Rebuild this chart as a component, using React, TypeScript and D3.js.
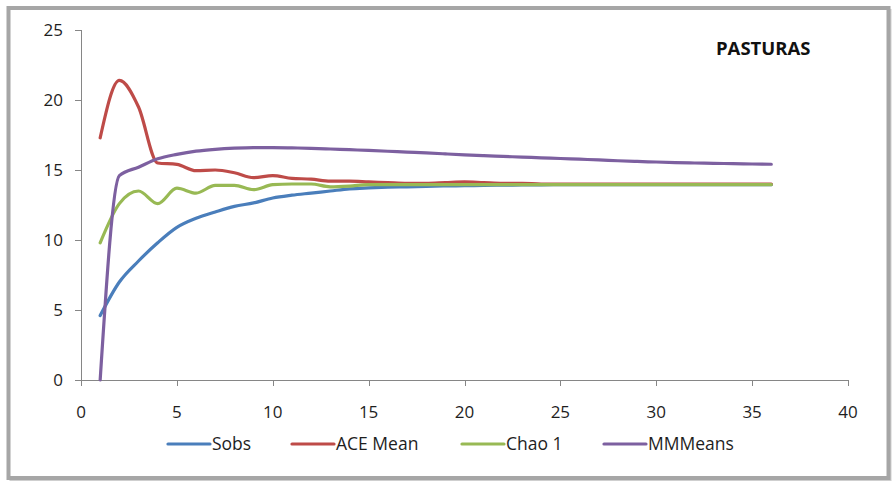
import React from "react";
import * as d3 from "d3";

// Sample counts (x) and the four richness estimators
const samples: number[] = Array.from({ length: 36 }, (_, i) => i + 1);

const sobs: number[] = [
  4.6, 7.0, 8.5, 9.8, 10.9, 11.55, 12.0, 12.4, 12.65, 13.0,
  13.2, 13.35, 13.5, 13.65, 13.72, 13.77, 13.8, 13.83, 13.86, 13.88,
  13.9, 13.92, 13.93, 13.94, 13.95, 13.95, 13.95, 13.95, 13.95, 13.95,
  13.95, 13.95, 13.95, 13.95, 13.95, 13.95,
];

const aceMean: number[] = [
  17.3, 21.4, 19.5, 15.5, 15.4, 14.95, 15.0, 14.8, 14.45, 14.6,
  14.4, 14.35, 14.2, 14.2, 14.15, 14.1, 14.05, 14.05, 14.1, 14.15,
  14.1, 14.05, 14.05, 14.0, 14.0, 14.0, 14.0, 14.0, 14.0, 14.0,
  14.0, 14.0, 14.0, 14.0, 14.0, 14.0,
];

const chao1: number[] = [
  9.8, 12.6, 13.5, 12.6, 13.7, 13.35, 13.9, 13.9, 13.6, 13.95,
  14.0, 14.0, 13.8, 13.85, 13.95, 13.95, 13.95, 13.95, 13.95, 13.95,
  13.95, 13.95, 13.95, 13.95, 13.95, 13.95, 13.95, 13.95, 13.95, 13.95,
  13.95, 13.95, 13.95, 13.95, 13.95, 13.95,
];

const mmMeans: number[] = [
  0, 14.6, 15.2, 15.8, 16.12, 16.35, 16.48, 16.56, 16.6, 16.6,
  16.58, 16.55, 16.5, 16.45, 16.4, 16.34, 16.28, 16.22, 16.15, 16.08,
  16.02, 15.97, 15.92, 15.87, 15.82, 15.77, 15.72, 15.66, 15.61, 15.57,
  15.53, 15.5, 15.48, 15.45, 15.43, 15.41,
];

const seriesNames: string[] = ["Sobs", "ACE Mean", "Chao 1", "MMMeans"];
const seriesColors: string[] = ["#4a7ebb", "#be4b48", "#98b954", "#7d60a0"];
const xTicks: number[] = [0, 5, 10, 15, 20, 25, 30, 35, 40];
const yTicks: number[] = [0, 5, 10, 15, 20, 25];
const title = "PASTURAS";

// Legend layout: left edge of each legend swatch
const legendX: number[] = [168, 292, 462, 604];

const W = 892;
const H = 483;
const plot = { left: 81, right: 848, top: 30, bottom: 380 };
const FONT = "'Open Sans', 'Liberation Sans', Arial, sans-serif";
const AXIS = "#868686";
const TEXT = "#1e1e1e";

export default function App() {
  const x = d3.scaleLinear().domain([0, 40]).range([plot.left, plot.right]);
  const y = d3.scaleLinear().domain([0, 25]).range([plot.bottom, plot.top]);

  const allSeries = [sobs, aceMean, chao1, mmMeans];
  const line = d3
    .line<number>()
    .x((_, i) => x(samples[i]))
    .y((v) => y(v))
    .curve(d3.curveMonotoneX);

  return (
    <svg
      width={W}
      height={H}
      style={{ position: "absolute", left: 0, top: 0, background: "#fff" }}
      fontFamily={FONT}
    >
      {/* chart frame */}
      <rect x={10.5} y={10} width={880} height={470} fill="none" stroke="#cfcfcf" strokeWidth={2} />
      <rect x={8.5} y={8} width={880} height={470} fill="#fff" stroke="#a6a6a6" strokeWidth={4} />

      {/* y axis */}
      <line x1={plot.left + 0.5} x2={plot.left + 0.5} y1={plot.top} y2={plot.bottom} stroke={AXIS} strokeWidth={1} />
      {yTicks.map((t) => (
        <g key={"y" + t}>
          <line x1={plot.left - 6} x2={plot.left} y1={Math.round(y(t)) + 0.5} y2={Math.round(y(t)) + 0.5} stroke={AXIS} />
          <text x={63} y={y(t) + 6} textAnchor="end" fontSize={17} fill={TEXT}>
            {t}
          </text>
        </g>
      ))}

      {/* x axis */}
      <line x1={plot.left} x2={plot.right} y1={plot.bottom + 0.5} y2={plot.bottom + 0.5} stroke={AXIS} strokeWidth={1} />
      {xTicks.map((t) => (
        <g key={"x" + t}>
          <line x1={Math.round(x(t)) + 0.5} x2={Math.round(x(t)) + 0.5} y1={plot.bottom} y2={plot.bottom + 6} stroke={AXIS} />
          <text x={x(t)} y={418} textAnchor="middle" fontSize={17} fill={TEXT}>
            {t}
          </text>
        </g>
      ))}

      {/* series */}
      {allSeries.map((vals, i) => (
        <path
          key={seriesNames[i]}
          d={line(vals) || ""}
          fill="none"
          stroke={seriesColors[i]}
          strokeWidth={3.2}
          strokeLinejoin="round"
          strokeLinecap="round"
        />
      ))}

      {/* title */}
      <text x={716} y={55} fontSize={18.5} fontWeight="bold" fill="#111">
        {title}
      </text>

      {/* legend */}
      {seriesNames.map((name, i) => (
        <g key={"lg" + name}>
          <line
            x1={legendX[i]}
            x2={legendX[i] + 42}
            y1={444}
            y2={444}
            stroke={seriesColors[i]}
            strokeWidth={3.2}
            strokeLinecap="round"
          />
          <text x={legendX[i] + 44} y={450} fontSize={17.5} fill={TEXT}>
            {name}
          </text>
        </g>
      ))}
    </svg>
  );
}
